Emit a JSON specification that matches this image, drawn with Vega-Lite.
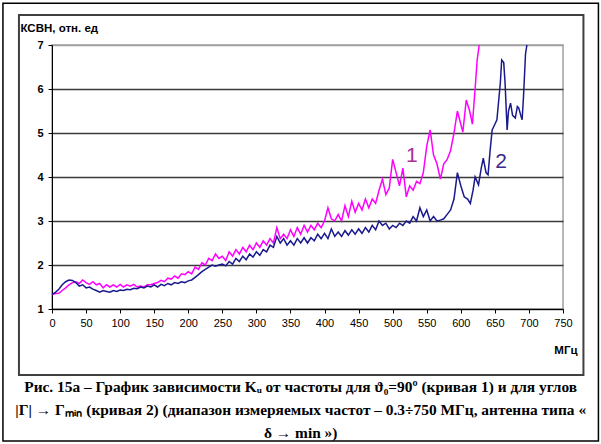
{
  "$schema": "https://vega.github.io/schema/vega-lite/v6.json",
  "width": 511,
  "height": 264,
  "autosize": "none",
  "padding": {"left": 52, "top": 45, "right": 38, "bottom": 135},
  "background": "white",
  "config": {
    "view": {"stroke": "#a0a0a0", "strokeWidth": 1.5},
    "font": "Liberation Sans"
  },
  "title": {
    "text": [
      "Рис. 15а – График зависимости  Kᵤ  от частоты для  ϑ₀=90º (кривая 1) и для углов",
      "|Γ| → Γₘᵢₙ  (кривая 2)  (диапазон измеряемых частот – 0.3÷750 МГц, антенна типа «",
      "δ → min »)"
    ],
    "orient": "bottom",
    "anchor": "middle",
    "frame": "bounds",
    "offset": -62,
    "font": "Liberation Serif",
    "fontSize": 15.4,
    "fontWeight": "bold",
    "color": "black",
    "lineHeight": 23
  },
  "datasets": {
    "curves": [
      {"f":0,"v":1.33,"curve":"1"},{"f":5,"v":1.35,"curve":"1"},{"f":10,"v":1.36,"curve":"1"},{"f":15,"v":1.42,"curve":"1"},{"f":20,"v":1.48,"curve":"1"},{"f":25,"v":1.55,"curve":"1"},{"f":30,"v":1.6,"curve":"1"},{"f":35,"v":1.62,"curve":"1"},{"f":40,"v":1.58,"curve":"1"},{"f":45,"v":1.66,"curve":"1"},{"f":50,"v":1.6,"curve":"1"},{"f":55,"v":1.56,"curve":"1"},{"f":60,"v":1.62,"curve":"1"},{"f":65,"v":1.55,"curve":"1"},{"f":70,"v":1.58,"curve":"1"},{"f":75,"v":1.48,"curve":"1"},{"f":80,"v":1.55,"curve":"1"},{"f":85,"v":1.5,"curve":"1"},{"f":90,"v":1.55,"curve":"1"},{"f":95,"v":1.5,"curve":"1"},{"f":100,"v":1.56,"curve":"1"},{"f":105,"v":1.5,"curve":"1"},{"f":110,"v":1.55,"curve":"1"},{"f":115,"v":1.52,"curve":"1"},{"f":120,"v":1.56,"curve":"1"},{"f":125,"v":1.5,"curve":"1"},{"f":130,"v":1.52,"curve":"1"},{"f":135,"v":1.5,"curve":"1"},{"f":140,"v":1.55,"curve":"1"},{"f":145,"v":1.55,"curve":"1"},{"f":150,"v":1.58,"curve":"1"},{"f":155,"v":1.6,"curve":"1"},{"f":160,"v":1.65,"curve":"1"},{"f":165,"v":1.62,"curve":"1"},{"f":170,"v":1.7,"curve":"1"},{"f":175,"v":1.68,"curve":"1"},{"f":180,"v":1.75,"curve":"1"},{"f":185,"v":1.7,"curve":"1"},{"f":190,"v":1.8,"curve":"1"},{"f":195,"v":1.78,"curve":"1"},{"f":200,"v":1.85,"curve":"1"},{"f":205,"v":1.8,"curve":"1"},{"f":210,"v":1.95,"curve":"1"},{"f":215,"v":1.9,"curve":"1"},{"f":220,"v":2.05,"curve":"1"},{"f":225,"v":2.0,"curve":"1"},{"f":230,"v":2.15,"curve":"1"},{"f":235,"v":2.1,"curve":"1"},{"f":240,"v":2.25,"curve":"1"},{"f":245,"v":2.15,"curve":"1"},{"f":250,"v":2.2,"curve":"1"},{"f":255,"v":2.1,"curve":"1"},{"f":260,"v":2.3,"curve":"1"},{"f":265,"v":2.2,"curve":"1"},{"f":270,"v":2.35,"curve":"1"},{"f":275,"v":2.25,"curve":"1"},{"f":280,"v":2.4,"curve":"1"},{"f":285,"v":2.3,"curve":"1"},{"f":290,"v":2.45,"curve":"1"},{"f":295,"v":2.35,"curve":"1"},{"f":300,"v":2.5,"curve":"1"},{"f":305,"v":2.4,"curve":"1"},{"f":310,"v":2.55,"curve":"1"},{"f":315,"v":2.45,"curve":"1"},{"f":320,"v":2.6,"curve":"1"},{"f":325,"v":2.5,"curve":"1"},{"f":330,"v":2.85,"curve":"1"},{"f":335,"v":2.6,"curve":"1"},{"f":340,"v":2.7,"curve":"1"},{"f":345,"v":2.6,"curve":"1"},{"f":350,"v":2.8,"curve":"1"},{"f":355,"v":2.65,"curve":"1"},{"f":360,"v":2.85,"curve":"1"},{"f":365,"v":2.7,"curve":"1"},{"f":370,"v":2.9,"curve":"1"},{"f":375,"v":2.75,"curve":"1"},{"f":380,"v":2.9,"curve":"1"},{"f":385,"v":2.8,"curve":"1"},{"f":390,"v":2.95,"curve":"1"},{"f":395,"v":2.85,"curve":"1"},{"f":400,"v":3.0,"curve":"1"},{"f":405,"v":3.3,"curve":"1"},{"f":410,"v":3.05,"curve":"1"},{"f":415,"v":3.0,"curve":"1"},{"f":420,"v":3.15,"curve":"1"},{"f":425,"v":3.0,"curve":"1"},{"f":430,"v":3.35,"curve":"1"},{"f":435,"v":3.1,"curve":"1"},{"f":440,"v":3.45,"curve":"1"},{"f":445,"v":3.2,"curve":"1"},{"f":450,"v":3.4,"curve":"1"},{"f":455,"v":3.25,"curve":"1"},{"f":460,"v":3.5,"curve":"1"},{"f":465,"v":3.3,"curve":"1"},{"f":470,"v":3.5,"curve":"1"},{"f":475,"v":3.4,"curve":"1"},{"f":480,"v":3.7,"curve":"1"},{"f":485,"v":3.95,"curve":"1"},{"f":490,"v":3.6,"curve":"1"},{"f":495,"v":3.75,"curve":"1"},{"f":500,"v":4.4,"curve":"1"},{"f":505,"v":4.1,"curve":"1"},{"f":510,"v":3.8,"curve":"1"},{"f":515,"v":4.2,"curve":"1"},{"f":520,"v":3.55,"curve":"1"},{"f":525,"v":3.8,"curve":"1"},{"f":530,"v":3.7,"curve":"1"},{"f":535,"v":3.9,"curve":"1"},{"f":540,"v":3.85,"curve":"1"},{"f":545,"v":4.1,"curve":"1"},{"f":550,"v":4.7,"curve":"1"},{"f":555,"v":5.07,"curve":"1"},{"f":560,"v":4.5,"curve":"1"},{"f":565,"v":4.3,"curve":"1"},{"f":570,"v":3.95,"curve":"1"},{"f":575,"v":4.3,"curve":"1"},{"f":580,"v":4.4,"curve":"1"},{"f":585,"v":4.6,"curve":"1"},{"f":590,"v":5.0,"curve":"1"},{"f":595,"v":5.5,"curve":"1"},{"f":600,"v":5.2,"curve":"1"},{"f":603,"v":5.02,"curve":"1"},{"f":608,"v":5.75,"curve":"1"},{"f":613,"v":5.5,"curve":"1"},{"f":617,"v":5.2,"curve":"1"},{"f":621,"v":6.0,"curve":"1"},{"f":624,"v":6.66,"curve":"1"},{"f":627,"v":7.0,"curve":"1"},
      {"f":0,"v":1.33,"curve":"2"},{"f":5,"v":1.38,"curve":"2"},{"f":10,"v":1.45,"curve":"2"},{"f":15,"v":1.55,"curve":"2"},{"f":20,"v":1.62,"curve":"2"},{"f":25,"v":1.66,"curve":"2"},{"f":30,"v":1.65,"curve":"2"},{"f":35,"v":1.6,"curve":"2"},{"f":40,"v":1.52,"curve":"2"},{"f":45,"v":1.55,"curve":"2"},{"f":50,"v":1.48,"curve":"2"},{"f":55,"v":1.5,"curve":"2"},{"f":60,"v":1.45,"curve":"2"},{"f":65,"v":1.42,"curve":"2"},{"f":70,"v":1.38,"curve":"2"},{"f":75,"v":1.42,"curve":"2"},{"f":80,"v":1.4,"curve":"2"},{"f":85,"v":1.38,"curve":"2"},{"f":90,"v":1.42,"curve":"2"},{"f":95,"v":1.4,"curve":"2"},{"f":100,"v":1.43,"curve":"2"},{"f":105,"v":1.42,"curve":"2"},{"f":110,"v":1.45,"curve":"2"},{"f":115,"v":1.44,"curve":"2"},{"f":120,"v":1.47,"curve":"2"},{"f":125,"v":1.46,"curve":"2"},{"f":130,"v":1.5,"curve":"2"},{"f":135,"v":1.48,"curve":"2"},{"f":140,"v":1.52,"curve":"2"},{"f":145,"v":1.5,"curve":"2"},{"f":150,"v":1.55,"curve":"2"},{"f":155,"v":1.5,"curve":"2"},{"f":160,"v":1.56,"curve":"2"},{"f":165,"v":1.53,"curve":"2"},{"f":170,"v":1.58,"curve":"2"},{"f":175,"v":1.55,"curve":"2"},{"f":180,"v":1.6,"curve":"2"},{"f":185,"v":1.58,"curve":"2"},{"f":190,"v":1.62,"curve":"2"},{"f":195,"v":1.6,"curve":"2"},{"f":200,"v":1.64,"curve":"2"},{"f":205,"v":1.66,"curve":"2"},{"f":210,"v":1.72,"curve":"2"},{"f":215,"v":1.78,"curve":"2"},{"f":220,"v":1.85,"curve":"2"},{"f":225,"v":1.9,"curve":"2"},{"f":230,"v":1.95,"curve":"2"},{"f":235,"v":2.0,"curve":"2"},{"f":240,"v":1.97,"curve":"2"},{"f":245,"v":2.0,"curve":"2"},{"f":250,"v":2.02,"curve":"2"},{"f":255,"v":1.98,"curve":"2"},{"f":260,"v":2.08,"curve":"2"},{"f":265,"v":2.02,"curve":"2"},{"f":270,"v":2.15,"curve":"2"},{"f":275,"v":2.08,"curve":"2"},{"f":280,"v":2.2,"curve":"2"},{"f":285,"v":2.12,"curve":"2"},{"f":290,"v":2.25,"curve":"2"},{"f":295,"v":2.18,"curve":"2"},{"f":300,"v":2.3,"curve":"2"},{"f":305,"v":2.22,"curve":"2"},{"f":310,"v":2.35,"curve":"2"},{"f":315,"v":2.3,"curve":"2"},{"f":320,"v":2.45,"curve":"2"},{"f":325,"v":2.4,"curve":"2"},{"f":330,"v":2.65,"curve":"2"},{"f":335,"v":2.5,"curve":"2"},{"f":340,"v":2.6,"curve":"2"},{"f":345,"v":2.45,"curve":"2"},{"f":350,"v":2.55,"curve":"2"},{"f":355,"v":2.45,"curve":"2"},{"f":360,"v":2.6,"curve":"2"},{"f":365,"v":2.5,"curve":"2"},{"f":370,"v":2.62,"curve":"2"},{"f":375,"v":2.5,"curve":"2"},{"f":380,"v":2.62,"curve":"2"},{"f":385,"v":2.55,"curve":"2"},{"f":390,"v":2.7,"curve":"2"},{"f":395,"v":2.6,"curve":"2"},{"f":400,"v":2.72,"curve":"2"},{"f":405,"v":2.6,"curve":"2"},{"f":410,"v":2.82,"curve":"2"},{"f":415,"v":2.65,"curve":"2"},{"f":420,"v":2.75,"curve":"2"},{"f":425,"v":2.65,"curve":"2"},{"f":430,"v":2.78,"curve":"2"},{"f":435,"v":2.68,"curve":"2"},{"f":440,"v":2.8,"curve":"2"},{"f":445,"v":2.7,"curve":"2"},{"f":450,"v":2.82,"curve":"2"},{"f":455,"v":2.72,"curve":"2"},{"f":460,"v":2.85,"curve":"2"},{"f":465,"v":2.75,"curve":"2"},{"f":470,"v":2.9,"curve":"2"},{"f":475,"v":2.8,"curve":"2"},{"f":480,"v":3.0,"curve":"2"},{"f":485,"v":2.9,"curve":"2"},{"f":490,"v":2.95,"curve":"2"},{"f":495,"v":2.82,"curve":"2"},{"f":500,"v":2.9,"curve":"2"},{"f":505,"v":2.85,"curve":"2"},{"f":510,"v":2.95,"curve":"2"},{"f":515,"v":2.9,"curve":"2"},{"f":520,"v":3.0,"curve":"2"},{"f":525,"v":2.95,"curve":"2"},{"f":530,"v":3.1,"curve":"2"},{"f":535,"v":3.0,"curve":"2"},{"f":540,"v":3.3,"curve":"2"},{"f":545,"v":3.1,"curve":"2"},{"f":550,"v":3.25,"curve":"2"},{"f":555,"v":3.0,"curve":"2"},{"f":560,"v":3.1,"curve":"2"},{"f":565,"v":3.0,"curve":"2"},{"f":570,"v":3.02,"curve":"2"},{"f":575,"v":3.05,"curve":"2"},{"f":580,"v":3.15,"curve":"2"},{"f":585,"v":3.25,"curve":"2"},{"f":590,"v":3.5,"curve":"2"},{"f":595,"v":4.1,"curve":"2"},{"f":600,"v":3.8,"curve":"2"},{"f":605,"v":3.55,"curve":"2"},{"f":610,"v":3.5,"curve":"2"},{"f":614,"v":3.4,"curve":"2"},{"f":618,"v":3.7,"curve":"2"},{"f":621,"v":4.0,"curve":"2"},{"f":626,"v":3.82,"curve":"2"},{"f":630,"v":4.2,"curve":"2"},{"f":633,"v":4.43,"curve":"2"},{"f":637,"v":4.1,"curve":"2"},{"f":640,"v":4.05,"curve":"2"},{"f":643,"v":4.6,"curve":"2"},{"f":646,"v":5.07,"curve":"2"},{"f":650,"v":5.2,"curve":"2"},{"f":653,"v":5.3,"curve":"2"},{"f":656,"v":5.8,"curve":"2"},{"f":658,"v":6.13,"curve":"2"},{"f":660,"v":6.66,"curve":"2"},{"f":663,"v":6.6,"curve":"2"},{"f":665,"v":6.13,"curve":"2"},{"f":668,"v":5.07,"curve":"2"},{"f":670,"v":5.5,"curve":"2"},{"f":673,"v":5.68,"curve":"2"},{"f":676,"v":5.4,"curve":"2"},{"f":680,"v":5.34,"curve":"2"},{"f":683,"v":5.6,"curve":"2"},{"f":685,"v":5.57,"curve":"2"},{"f":688,"v":5.4,"curve":"2"},{"f":690,"v":5.3,"curve":"2"},{"f":692,"v":5.82,"curve":"2"},{"f":695,"v":6.8,"curve":"2"},{"f":697,"v":7.0,"curve":"2"}
    ],
    "labels": [
      {"f": 528, "v": 4.47, "label": "1"},
      {"f": 659, "v": 4.33, "label": "2"}
    ]
  },
  "layer": [
    {
      "data": {"name": "curves"},
      "mark": {"type": "line", "strokeWidth": 1.5, "interpolate": "linear"},
      "encoding": {
        "x": {
          "field": "f", "type": "quantitative",
          "scale": {"domain": [0, 750], "nice": false},
          "axis": {
            "values": [0,50,100,150,200,250,300,350,400,450,500,550,600,650,700,750],
            "tickCount": 16,
            "grid": false,
            "labelOverlap": false, "labelFlush": false, "labelBound": false,
            "domainColor": "black", "domainWidth": 1,
            "tickColor": "black", "tickSize": 4,
            "labelFont": "Liberation Sans", "labelFontSize": 11, "labelColor": "black",
            "labelPadding": 4,
            "title": "МГц",
            "titleFont": "Liberation Sans", "titleFontSize": 11.5, "titleFontWeight": "bold", "titleColor": "black",
            "titleAnchor": null, "titleAlign": "right", "titleBaseline": "alphabetic",
            "titleX": 525, "titleY": 44
          }
        },
        "y": {
          "field": "v", "type": "quantitative",
          "scale": {"domain": [1, 7], "nice": false},
          "axis": {
            "values": [1,2,3,4,5,6,7],
            "grid": true,
            "labelOverlap": false, "labelFlush": false,
            "gridColor": {"condition": {"test": "datum.value === 7", "value": "#a0a0a0"}, "value": "#3a3a3a"},
            "gridWidth": 1.5,
            "domainColor": "black", "domainWidth": 1,
            "tickColor": "black", "tickSize": 4,
            "labelFont": "Liberation Sans", "labelFontSize": 11, "labelFontWeight": "bold", "labelColor": "black",
            "labelPadding": 5,
            "title": "КСВН, отн. ед",
            "titleFont": "Liberation Sans", "titleFontSize": 11.5, "titleFontWeight": "bold", "titleColor": "black",
            "titleAngle": 0, "titleAnchor": null, "titleAlign": "left", "titleBaseline": "alphabetic",
            "titleX": -32, "titleY": -14
          }
        },
        "color": {
          "field": "curve", "type": "nominal",
          "scale": {"domain": ["1", "2"], "range": ["#ff00ff", "#1a1a8c"]},
          "legend": null
        },
        "order": {"field": "f", "type": "quantitative"}
      }
    },
    {
      "data": {"name": "labels"},
      "mark": {"type": "text", "font": "Liberation Sans", "fontSize": 21, "align": "center", "baseline": "middle"},
      "encoding": {
        "x": {"field": "f", "type": "quantitative"},
        "y": {"field": "v", "type": "quantitative"},
        "text": {"field": "label"},
        "color": {
          "field": "label", "type": "nominal",
          "scale": {"domain": ["1", "2"], "range": ["#a8309c", "#3a2a8c"]},
          "legend": null
        }
      }
    },
    {
      "data": {"values": [{"frame": "outer"}]},
      "mark": {"type": "rect", "fill": null, "stroke": "black", "strokeWidth": 1.5, "clip": false},
      "encoding": {
        "x": {"datum": -72, "type": "quantitative"},
        "x2": {"datum": 802},
        "y": {"datum": 7.95, "type": "quantitative"},
        "y2": {"datum": -2.0}
      }
    },
    {
      "data": {"values": [{"frame": "inner"}]},
      "mark": {"type": "rect", "fill": null, "stroke": "#404040", "strokeWidth": 2, "clip": false},
      "encoding": {
        "x": {"datum": -48.5, "type": "quantitative"},
        "x2": {"datum": 780},
        "y": {"datum": 7.68, "type": "quantitative"},
        "y2": {"datum": -0.5}
      }
    }
  ],
  "resolve": {"scale": {"color": "independent"}}
}
